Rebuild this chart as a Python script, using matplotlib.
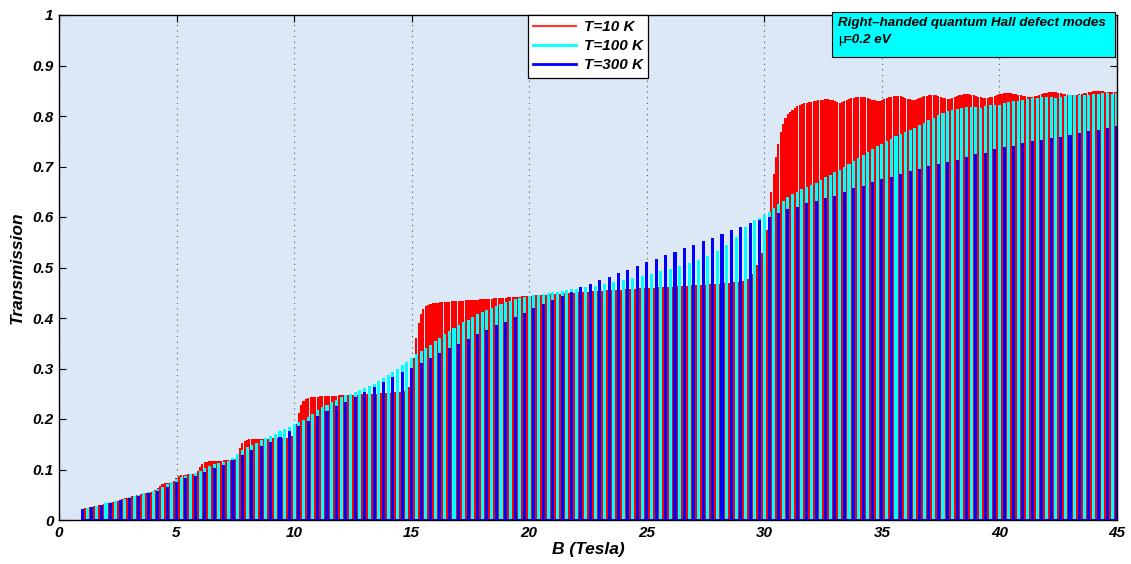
import numpy as np
import matplotlib
matplotlib.use("Agg")
import matplotlib.pyplot as plt
from matplotlib.lines import Line2D
from matplotlib.patches import Rectangle

# ---------------- data ----------------
B_red = np.round(np.arange(1.0, 45.0001, 0.1), 2)     # T = 10 K samples
B_cyan = np.round(np.arange(1.0, 45.0001, 0.2), 2)    # T = 100 K samples
B_blue = np.round(np.arange(1.0, 45.0001, 0.4), 2)    # T = 300 K samples

T10_rows = [
    [0.022, 0.023, 0.024, 0.025, 0.026, 0.027, 0.028, 0.029, 0.030, 0.031],
    [0.032, 0.033, 0.034, 0.036, 0.037, 0.038, 0.040, 0.041, 0.043, 0.044],
    [0.046, 0.047, 0.048, 0.049, 0.050, 0.052, 0.053, 0.054, 0.055, 0.056],
    [0.058, 0.060, 0.063, 0.068, 0.072, 0.073, 0.074, 0.074, 0.075, 0.078],
    [0.084, 0.088, 0.089, 0.090, 0.090, 0.091, 0.091, 0.092, 0.094, 0.098],
    [0.105, 0.111, 0.114, 0.115, 0.116, 0.116, 0.117, 0.117, 0.117, 0.117],
    [0.118, 0.118, 0.118, 0.118, 0.119, 0.121, 0.128, 0.142, 0.152, 0.157],
    [0.159, 0.160, 0.160, 0.160, 0.160, 0.160, 0.161, 0.161, 0.161, 0.161],
    [0.161, 0.162, 0.162, 0.162, 0.162, 0.162, 0.163, 0.163, 0.164, 0.166],
    [0.172, 0.190, 0.212, 0.228, 0.236, 0.240, 0.242, 0.243, 0.244, 0.244],
    [0.244, 0.245, 0.245, 0.245, 0.245, 0.246, 0.246, 0.246, 0.246, 0.247],
    [0.247, 0.247, 0.247, 0.248, 0.248, 0.248, 0.248, 0.248, 0.249, 0.249],
    [0.249, 0.249, 0.250, 0.250, 0.250, 0.250, 0.251, 0.251, 0.251, 0.252],
    [0.252, 0.252, 0.253, 0.253, 0.253, 0.254, 0.255, 0.256, 0.258, 0.264],
    [0.280, 0.320, 0.360, 0.390, 0.408, 0.418, 0.423, 0.426, 0.428, 0.429],
    [0.430, 0.430, 0.431, 0.431, 0.432, 0.432, 0.432, 0.433, 0.433, 0.433],
    [0.434, 0.434, 0.434, 0.435, 0.435, 0.435, 0.436, 0.436, 0.436, 0.437],
    [0.437, 0.437, 0.438, 0.438, 0.438, 0.439, 0.439, 0.439, 0.440, 0.440],
    [0.440, 0.441, 0.441, 0.441, 0.442, 0.442, 0.442, 0.443, 0.443, 0.443],
    [0.444, 0.444, 0.444, 0.445, 0.445, 0.445, 0.446, 0.446, 0.446, 0.447],
    [0.447, 0.447, 0.448, 0.448, 0.448, 0.449, 0.449, 0.449, 0.450, 0.450],
    [0.450, 0.451, 0.451, 0.451, 0.452, 0.452, 0.452, 0.453, 0.453, 0.453],
    [0.454, 0.454, 0.454, 0.455, 0.455, 0.455, 0.455, 0.456, 0.456, 0.456],
    [0.457, 0.457, 0.457, 0.457, 0.458, 0.458, 0.458, 0.459, 0.459, 0.459],
    [0.459, 0.460, 0.460, 0.460, 0.460, 0.461, 0.461, 0.461, 0.462, 0.462],
    [0.462, 0.462, 0.463, 0.463, 0.463, 0.463, 0.464, 0.464, 0.464, 0.465],
    [0.465, 0.465, 0.465, 0.466, 0.466, 0.466, 0.467, 0.467, 0.467, 0.468],
    [0.468, 0.468, 0.469, 0.469, 0.469, 0.470, 0.470, 0.471, 0.471, 0.472],
    [0.473, 0.474, 0.476, 0.478, 0.482, 0.488, 0.496, 0.505, 0.515, 0.528],
    [0.545, 0.575, 0.610, 0.650, 0.685, 0.718, 0.745, 0.768, 0.785, 0.796],
    [0.803, 0.808, 0.812, 0.816, 0.819, 0.821, 0.823, 0.825, 0.826, 0.827],
    [0.828, 0.829, 0.830, 0.831, 0.832, 0.832, 0.833, 0.833, 0.832, 0.831],
    [0.829, 0.827, 0.826, 0.827, 0.829, 0.831, 0.833, 0.835, 0.836, 0.837],
    [0.838, 0.838, 0.838, 0.837, 0.836, 0.834, 0.832, 0.831, 0.830, 0.830],
    [0.831, 0.833, 0.835, 0.837, 0.838, 0.839, 0.840, 0.840, 0.839, 0.838],
    [0.836, 0.834, 0.833, 0.832, 0.832, 0.833, 0.835, 0.837, 0.839, 0.840],
    [0.841, 0.842, 0.842, 0.841, 0.840, 0.838, 0.836, 0.835, 0.834, 0.834],
    [0.835, 0.837, 0.839, 0.841, 0.842, 0.843, 0.843, 0.843, 0.842, 0.841],
    [0.840, 0.838, 0.837, 0.836, 0.836, 0.836, 0.837, 0.838, 0.840, 0.842],
    [0.843, 0.844, 0.845, 0.845, 0.845, 0.845, 0.844, 0.843, 0.842, 0.841],
    [0.840, 0.839, 0.838, 0.838, 0.838, 0.839, 0.840, 0.842, 0.843, 0.845],
    [0.846, 0.847, 0.847, 0.847, 0.847, 0.846, 0.845, 0.844, 0.843, 0.842],
    [0.841, 0.841, 0.841, 0.842, 0.843, 0.844, 0.845, 0.846, 0.847, 0.848],
    [0.849, 0.849, 0.849, 0.849, 0.849, 0.848, 0.848, 0.848, 0.848, 0.848],
    [0.848],
]
T10 = [v for row in T10_rows for v in row]

T100_rows = [
    [0.022, 0.024, 0.026, 0.028, 0.030],
    [0.033, 0.035, 0.037, 0.040, 0.042],
    [0.045, 0.047, 0.050, 0.053, 0.055],
    [0.058, 0.062, 0.066, 0.071, 0.076],
    [0.081, 0.085, 0.088, 0.091, 0.094],
    [0.098, 0.103, 0.107, 0.110, 0.112],
    [0.115, 0.117, 0.122, 0.130, 0.138],
    [0.145, 0.149, 0.153, 0.158, 0.162],
    [0.167, 0.171, 0.176, 0.180, 0.185],
    [0.190, 0.194, 0.198, 0.204, 0.210],
    [0.217, 0.223, 0.228, 0.233, 0.238],
    [0.243, 0.247, 0.250, 0.254, 0.258],
    [0.262, 0.266, 0.270, 0.275, 0.281],
    [0.288, 0.294, 0.300, 0.307, 0.313],
    [0.320, 0.328, 0.334, 0.341, 0.347],
    [0.354, 0.361, 0.368, 0.374, 0.380],
    [0.386, 0.392, 0.397, 0.402, 0.407],
    [0.412, 0.416, 0.420, 0.424, 0.428],
    [0.431, 0.434, 0.437, 0.439, 0.441],
    [0.443, 0.445, 0.446, 0.448, 0.449],
    [0.451, 0.452, 0.454, 0.455, 0.457],
    [0.458, 0.460, 0.461, 0.463, 0.464],
    [0.466, 0.467, 0.469, 0.471, 0.473],
    [0.475, 0.477, 0.479, 0.481, 0.483],
    [0.486, 0.488, 0.491, 0.493, 0.496],
    [0.498, 0.501, 0.503, 0.506, 0.509],
    [0.512, 0.515, 0.519, 0.523, 0.527],
    [0.532, 0.538, 0.545, 0.552, 0.560],
    [0.570, 0.580, 0.588, 0.594, 0.599],
    [0.603, 0.610, 0.618, 0.625, 0.632],
    [0.639, 0.645, 0.650, 0.655, 0.659],
    [0.663, 0.668, 0.674, 0.679, 0.684],
    [0.689, 0.694, 0.700, 0.705, 0.711],
    [0.716, 0.722, 0.728, 0.734, 0.740],
    [0.745, 0.750, 0.755, 0.760, 0.764],
    [0.768, 0.772, 0.777, 0.782, 0.787],
    [0.792, 0.797, 0.802, 0.806, 0.809],
    [0.812, 0.814, 0.816, 0.817, 0.818],
    [0.817, 0.816, 0.819, 0.822, 0.822],
    [0.822, 0.825, 0.828, 0.829, 0.830],
    [0.832, 0.833, 0.835, 0.836, 0.837],
    [0.838, 0.837, 0.836, 0.838, 0.840],
    [0.841, 0.842, 0.842, 0.841, 0.842],
    [0.843, 0.844, 0.845, 0.845, 0.844],
    [0.845],
]
T100 = [v for row in T100_rows for v in row]

T300 = [
    0.022, 0.026, 0.030, 0.034, 0.039, 0.043, 0.048, 0.053, 0.058, 0.065,
    0.076, 0.083, 0.088, 0.095, 0.102, 0.108, 0.118, 0.129, 0.138, 0.146,
    0.155, 0.165, 0.176, 0.186, 0.196, 0.206, 0.216, 0.225, 0.234, 0.243,
    0.253, 0.264, 0.273, 0.283, 0.293, 0.301, 0.310, 0.320, 0.330, 0.340,
    0.348, 0.358, 0.368, 0.376, 0.386, 0.393, 0.402, 0.410, 0.420, 0.428,
    0.436, 0.444, 0.452, 0.461, 0.467, 0.475, 0.482, 0.489, 0.496, 0.503,
    0.510, 0.517, 0.524, 0.531, 0.538, 0.545, 0.552, 0.559, 0.566, 0.574,
    0.581, 0.588, 0.594, 0.600, 0.607, 0.615, 0.620, 0.627, 0.632, 0.637,
    0.642, 0.650, 0.657, 0.661, 0.669, 0.675, 0.680, 0.686, 0.692, 0.695,
    0.701, 0.704, 0.708, 0.712, 0.718, 0.725, 0.727, 0.734, 0.738, 0.741,
    0.747, 0.750, 0.752, 0.757, 0.758, 0.763, 0.767, 0.770, 0.772, 0.777,
    0.780,
]

labels = ["T=10 K", "T=100 K", "T=300 K"]
x_ticks = [0, 5, 10, 15, 20, 25, 30, 35, 40, 45]
y_ticks = [0, 0.1, 0.2, 0.3, 0.4, 0.5, 0.6, 0.7, 0.8, 0.9, 1]
y_ticklabels = ["0", "0.1", "0.2", "0.3", "0.4", "0.5", "0.6", "0.7", "0.8", "0.9", "1"]
note_line1 = "Right\u2013handed quantum Hall defect modes"
note_line2 = "=0.2 eV"

assert len(T10) == len(B_red)
assert len(T100) == len(B_cyan)
assert len(T300) == len(B_blue)

# ---------------- figure ----------------
plt.rcParams['font.family'] = ['Liberation Sans', 'DejaVu Sans']
W, H = 1131, 564
fig = plt.figure(figsize=(W / 100, H / 100), dpi=100)
ax = fig.add_axes([59 / W, 1 - 520 / H, (1117 - 59) / W, (520 - 15) / H])
ax.set_facecolor('#dde8f7')

ax.bar(B_red, T10, width=0.09, color='#ff0000', linewidth=0, zorder=2)
ax.bar(B_cyan, T100, width=0.13, color='#00ffff', linewidth=0, zorder=3)
ax.bar(B_blue, T300, width=0.13, color='#0000ff', linewidth=0, zorder=4)
ax.plot([B_blue[0] - 0.06, B_blue[-1] + 0.06], [0, 0], color='#0000ff', lw=2.2,
        zorder=5, solid_capstyle='butt')

ax.set_xlim(0, 45)
ax.set_ylim(0, 1)
ax.set_xticks(x_ticks)
ax.set_yticks(y_ticks)
tfont = dict(fontsize=11, fontweight='bold', style='italic')
ax.set_xticklabels([str(t) for t in x_ticks], **tfont)
ax.set_yticklabels(y_ticklabels, **tfont)
ax.tick_params(direction='in', length=5, width=0.8, top=True, right=True, pad=4)
ax.xaxis.grid(True, linestyle=(0, (1, 4)), color='#555555', linewidth=0.8, zorder=1)
ax.set_axisbelow(True)
for s in ax.spines.values():
    s.set_linewidth(1.0)
    s.set_zorder(6)

ax.set_xlabel("B (Tesla)", fontsize=12.5, fontweight='bold', style='italic', labelpad=2)
ax.set_ylabel("Transmission", fontsize=12.5, fontweight='bold', style='italic', labelpad=5)

handles = [Line2D([], [], color='#ff3333', lw=1.5),
           Line2D([], [], color='#00ffff', lw=2.0),
           Line2D([], [], color='#0000ff', lw=2.0)]
leg = ax.legend(handles, labels, loc='upper left',
                bbox_to_anchor=((528 - 59) / (1117 - 59), 1.0),
                prop={'weight': 'bold', 'style': 'italic', 'size': 11},
                frameon=True, fancybox=False, edgecolor='black', framealpha=1,
                handlelength=2.8, handletextpad=0.5, borderpad=0.35, labelspacing=0.33,
                borderaxespad=0)
leg.get_frame().set_linewidth(0.9)
leg.set_zorder(10)

# annotation box (cyan)
fig.patches.append(Rectangle((832 / W, 1 - 57 / H), (1115 - 832) / W, (57 - 12) / H,
                             transform=fig.transFigure, facecolor='#00ffff',
                             edgecolor='black', linewidth=0.8, zorder=20))
fs_note = 9.6
fig.text(838 / W, 1 - 23 / H, note_line1, ha='left', va='center', fontsize=fs_note,
         fontweight='bold', style='italic', zorder=21)
fig.text(838 / W, 1 - 40 / H, "\u03bc", ha='left', va='center', fontsize=fs_note,
         fontweight='normal', style='normal', zorder=21)
fig.text(844 / W, 1 - 40 / H, note_line2, ha='left', va='center', fontsize=fs_note,
         fontweight='bold', style='italic', zorder=21)

fig.savefig("out.png", dpi=100)
